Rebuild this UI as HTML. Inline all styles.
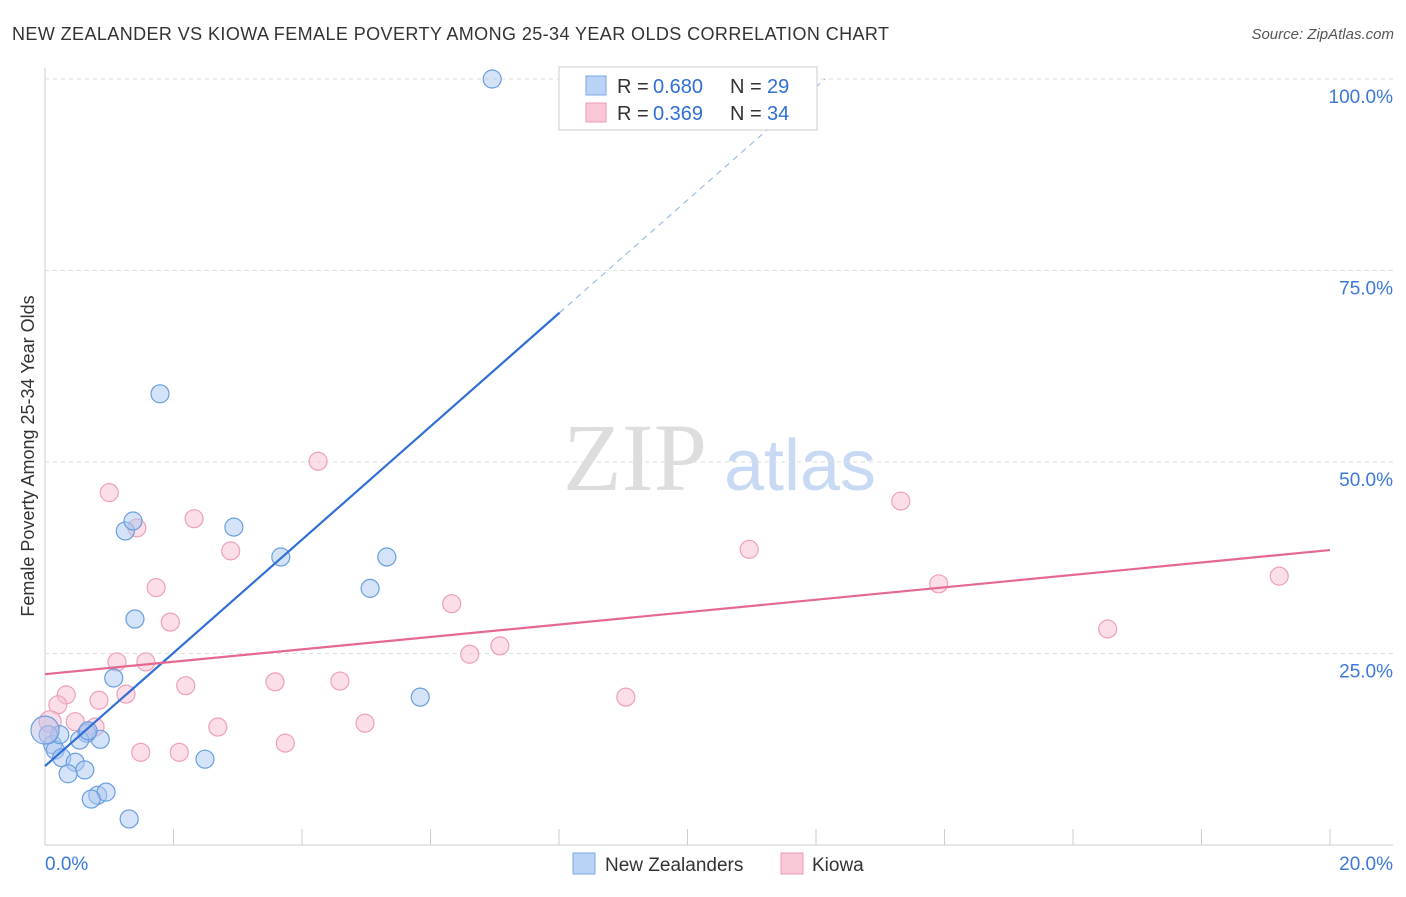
<!DOCTYPE html><html><head><meta charset="utf-8"><style>body{margin:0;background:#fff;font-family:"Liberation Sans",sans-serif}</style></head><body>
<svg id="c" width="1406" height="892" xmlns="http://www.w3.org/2000/svg">
<text x="12" y="40" font-size="18" fill="#333" textLength="877">NEW ZEALANDER VS KIOWA FEMALE POVERTY AMONG 25-34 YEAR OLDS CORRELATION CHART</text>
<text x="1394" y="39" font-size="15" fill="#555" font-style="italic" text-anchor="end">Source: ZipAtlas.com</text>
<text x="635" y="490" font-size="96" fill="#ddd" font-family="Liberation Serif" text-anchor="middle">ZIP</text>
<text x="800" y="490" font-size="72" fill="#c8daf3" text-anchor="middle">atlas</text>
<text transform="translate(34,456) rotate(-90)" font-size="18" fill="#333" text-anchor="middle">Female Poverty Among 25-34 Year Olds</text>
<g id="grid"></g><g id="pts"></g><g id="lines"></g>
<g>
<rect x="559" y="67" width="258" height="63" fill="#fff" stroke="#ccc"/>
<rect x="586" y="76" width="20" height="19" fill="#b8d3f5" stroke="#7aa8e6"/>
<rect x="586" y="103" width="20" height="19" fill="#fac8d6" stroke="#ee9ab4"/>
<text x="617" y="93" font-size="20" fill="#333">R =</text><text x="653" y="93" font-size="20" fill="#2f6fd6">0.680</text>
<text x="730" y="93" font-size="20" fill="#333">N =</text><text x="767" y="93" font-size="20" fill="#2f6fd6">29</text>
<text x="617" y="120" font-size="20" fill="#333">R =</text><text x="653" y="120" font-size="20" fill="#2f6fd6">0.369</text>
<text x="730" y="120" font-size="20" fill="#333">N =</text><text x="767" y="120" font-size="20" fill="#2f6fd6">34</text>
</g>
<g>
<rect x="573" y="853" width="22" height="21" fill="#b8d3f5" stroke="#7aa8e6"/>
<text x="605" y="871" font-size="19" fill="#333">New Zealanders</text>
<rect x="781" y="853" width="22" height="21" fill="#fac8d6" stroke="#ee9ab4"/>
<text x="812" y="871" font-size="19" fill="#333">Kiowa</text>
</g>
</svg>
<script>
const bx=[6.96,1.79,1.25,1.37,2.94,3.67,5.32,5.06,1.40,1.07,5.84,2.49,0.86,0.65,0.12,0.16,0.23,0.05,0.54,0.26,0.47,0.62,0.36,0.82,0.95,0.72,1.31,0.67,0];
const by=[100,58.9,41.0,42.3,41.5,37.6,37.6,33.5,29.5,21.8,19.3,11.2,13.8,14.6,13.1,12.4,14.4,14.4,13.7,11.4,10.8,9.8,9.3,6.5,6.9,6.0,3.4,14.9,15.0];
const px=[1.00,1.43,2.32,2.89,1.73,1.95,4.25,6.33,7.08,6.61,10.96,13.32,13.91,16.54,19.21,9.04,1.12,1.57,2.19,3.58,4.59,1.26,0.84,0.33,0.20,0.47,0.78,2.69,4.98,1.49,2.09,3.74,0.08,0.67];
const py=[46.0,41.4,42.6,38.4,33.6,29.1,50.1,31.5,26.0,24.9,38.6,44.9,34.1,28.2,35.1,19.3,23.9,23.9,20.8,21.3,21.4,19.7,18.9,19.6,18.3,16.1,15.4,15.4,15.9,12.1,12.1,13.3,16.1,14.9];
const yTicks=[25,50,75,100];
const xTicks=[0,2,4,6,8,10,12,14,16,18,20];
const blueLine=[0,10.3,8.01,69.5,12.14,100];
const pinkLine=[0,22.3,20,38.5];
const X=v=>45+v*64.25, Y=v=>845-v*7.66;
const NS='http://www.w3.org/2000/svg';
function mk(p,t,a){const e=document.createElementNS(NS,t);for(const k in a)e.setAttribute(k,a[k]);document.getElementById(p).appendChild(e);return e;}
let e=mk('grid','line',{x1:45,y1:68,x2:45,y2:845,stroke:'#ccc'});

e=mk('grid','line',{x1:45,y1:845,x2:1393,y2:845,stroke:'#ccc'});

yTicks.forEach(t=>{let g=mk('grid','line',{x1:45,x2:1393,y1:Y(t),y2:Y(t),stroke:'#ddd','stroke-dasharray':'4,4'});

let l=mk('grid','text',{x:1393,y:Y(t)+24,'font-size':19,fill:'#3b78d8','text-anchor':'end'});l.textContent=t.toFixed(1)+'%';
});
xTicks.forEach(t=>{let g=mk('grid','line',{x1:X(t),x2:X(t),y1:829,y2:845,stroke:'#ccc'});
});
[[0,'start',45],[20,'end',1393]].forEach(([t,a,xx])=>{let l=mk('grid','text',{x:xx,y:870,'font-size':19,fill:'#3b78d8','text-anchor':a});l.textContent=t.toFixed(1)+'%';
});
px.forEach((v,i)=>{let c=mk('pts','circle',{cx:X(v),cy:Y(py[i]),r:i==32?11:9,fill:'rgba(248,190,208,0.5)',stroke:'#eea0b8','stroke-width':1.2});
});
bx.forEach((v,i)=>{let c=mk('pts','circle',{cx:X(v),cy:Y(by[i]),r:i==28?14:9,fill:i==28?'rgba(190,190,230,0.5)':'rgba(170,200,240,0.5)',stroke:'#6a9ee0','stroke-width':1.2});
});
e=mk('lines','line',{x1:X(blueLine[0]),y1:Y(blueLine[1]),x2:X(blueLine[2]),y2:Y(blueLine[3]),stroke:'#2f6fd6','stroke-width':2.2});

e=mk('lines','line',{x1:X(blueLine[2]),y1:Y(blueLine[3]),x2:X(blueLine[4]),y2:Y(blueLine[5]),stroke:'#9bbce8','stroke-width':1.2,'stroke-dasharray':'6,5'});

e=mk('lines','line',{x1:X(pinkLine[0]),y1:Y(pinkLine[1]),x2:X(pinkLine[2]),y2:Y(pinkLine[3]),stroke:'#e5688f','stroke-width':2.2});

</script></body></html>
